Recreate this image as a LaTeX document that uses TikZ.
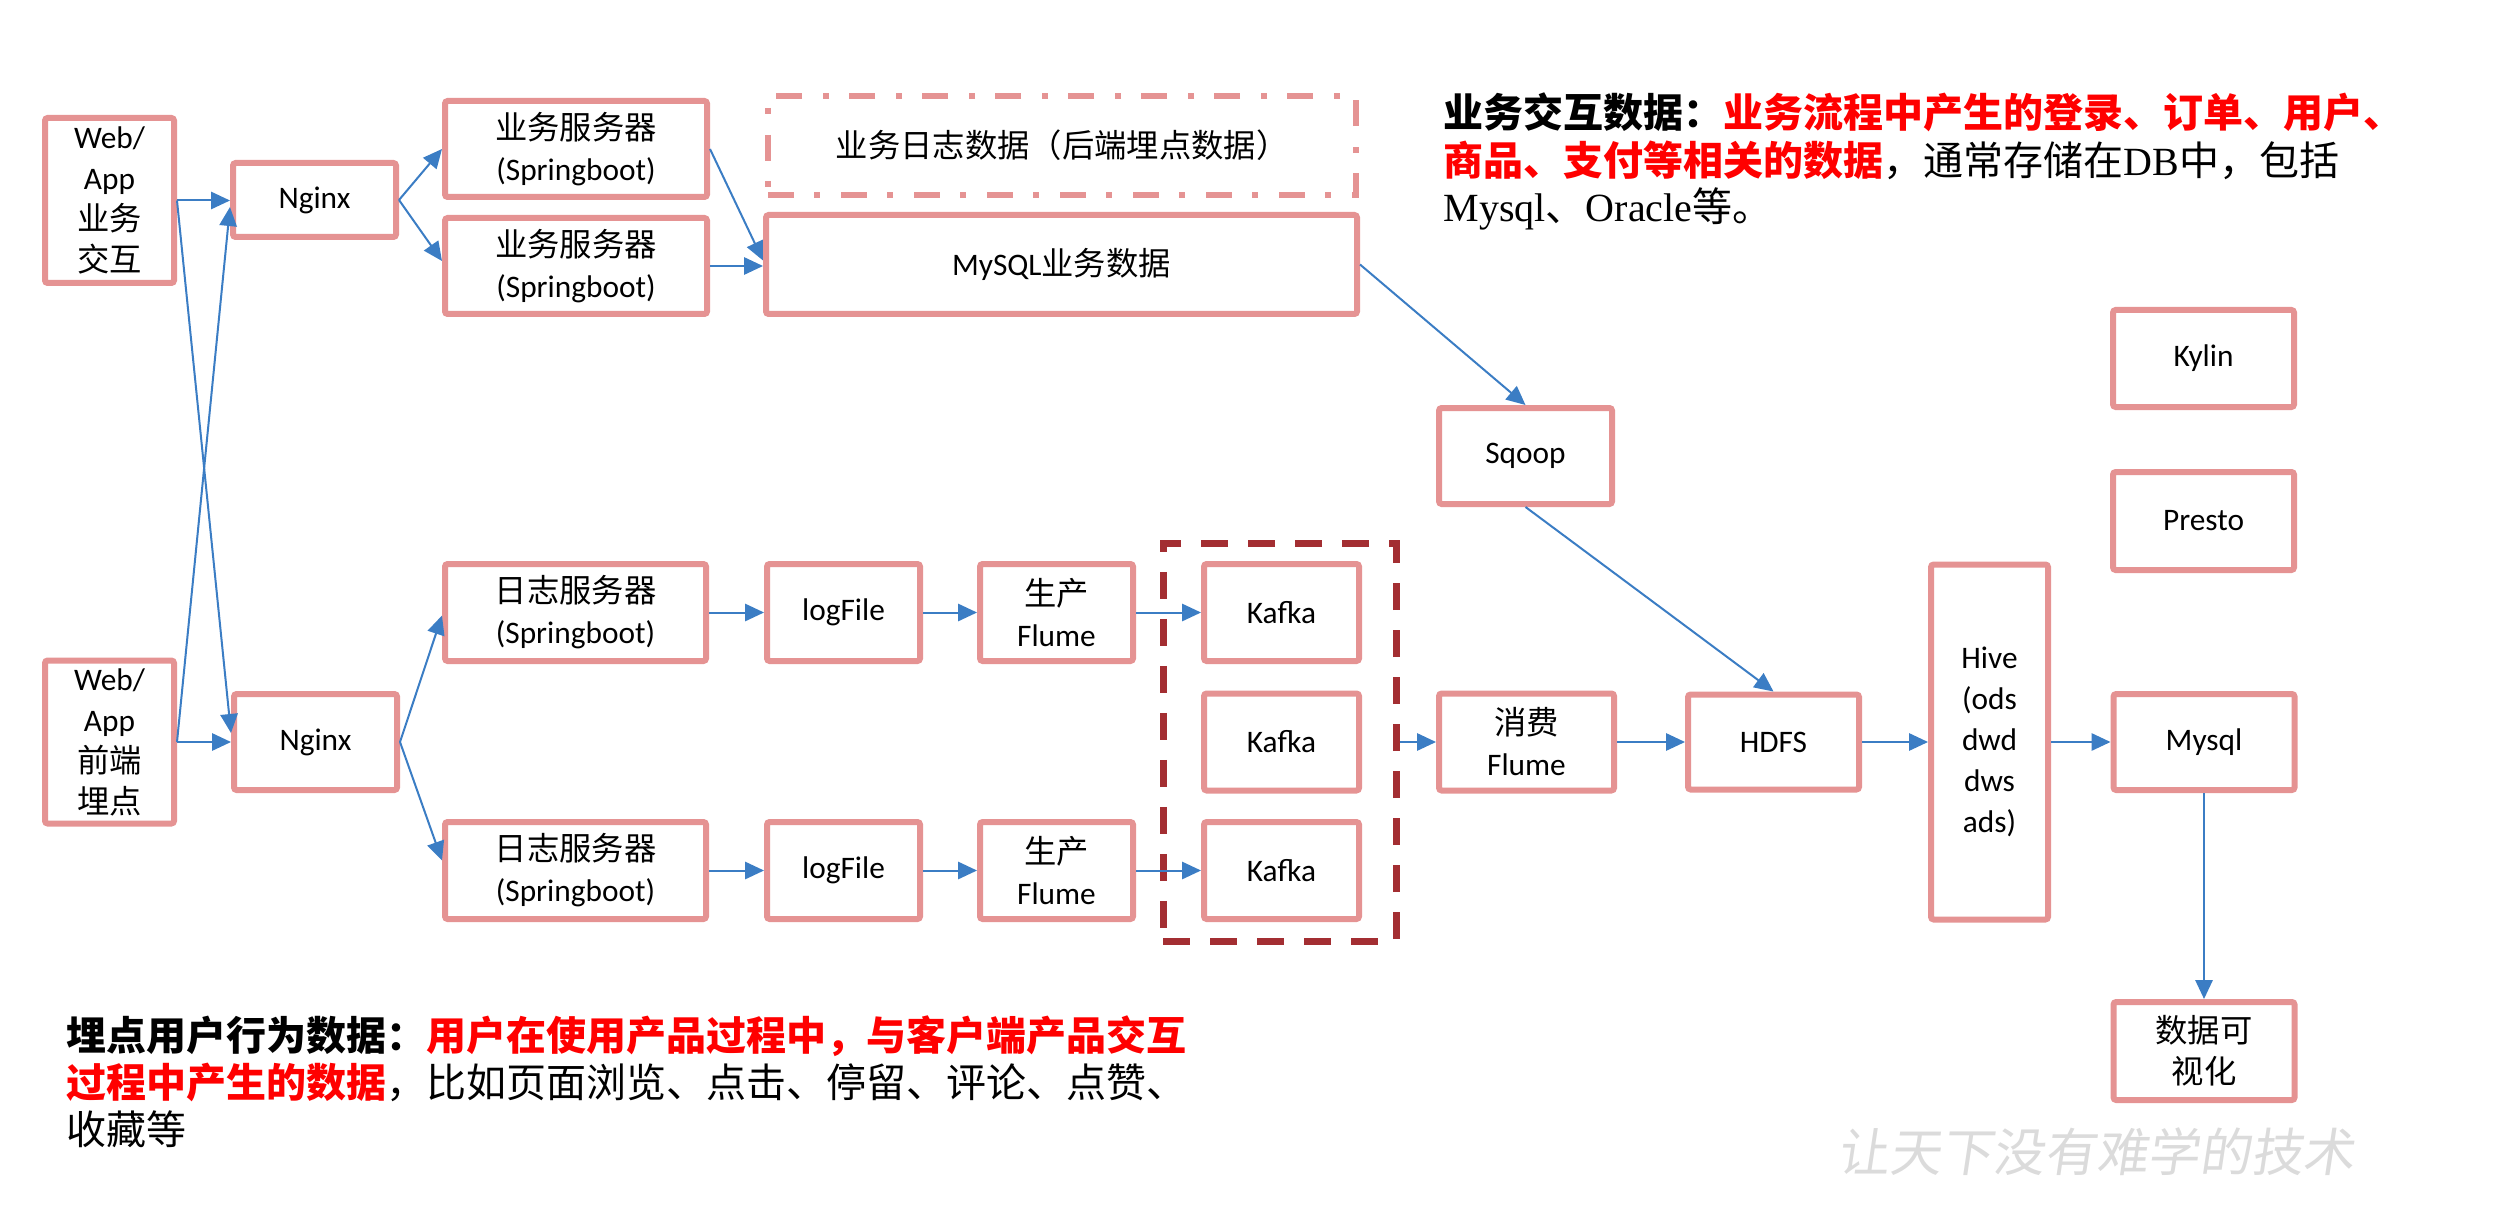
\documentclass[tikz,border=0pt]{standalone}
\usepackage{fontspec}
\setmainfont{Carlito}
\newfontfamily\zhfont{Noto Sans CJK SC}
\newfontfamily\serfont{Liberation Serif}
\newfontfamily\wmfont[FakeSlant=0.15]{Noto Sans CJK SC}
\usetikzlibrary{arrows.meta,calc}
\definecolor{boxpink}{RGB}{229,147,147}
\definecolor{arrblue}{RGB}{59,125,196}
\definecolor{kred}{RGB}{163,46,50}
\newcommand\zh[1]{{\zhfont\fontsize{9.7}{12.3}\selectfont #1}}
\newcommand\zhn[1]{{\zhfont #1}}
\newcommand\zhb[1]{{\zhfont\bfseries #1}}
\tikzset{
  box/.style={draw=boxpink, line width=1.8pt, fill=white, inner sep=0pt,
    align=center, font=\fontsize{9.4}{12.3}\selectfont, rounded corners=0.8pt},
  sz/.style 2 args={minimum width=#1*0.3pt, minimum height=#2*0.3pt},
  arr/.style={draw=arrblue, line width=0.6pt, -{Triangle[length=5.7pt,width=5.2pt]}},
  note/.style={anchor=base west, inner sep=0pt, font=\fontsize{12}{14.25}\selectfont},
}
\begin{document}
\begin{tikzpicture}[x=0.3pt,y=-0.3pt]
\useasboundingbox (0,0) rectangle (2520,1224);

% top business part
\node[box, sz={129}{165}] (webA) at (109.5,200.5) {Web/\\App\\\zh{业务}\\\zh{交互}};
\node[box, sz={163}{74}] (ngA) at (314.5,200) {Nginx};
\node[box, sz={262}{96}] (svA) at (576,149) {\zh{业务服务器}\\(Springboot)};
\node[box, sz={262}{96}] (svB) at (576,266) {\zh{业务服务器}\\(Springboot)};
\node[box, sz={588}{99}, dash pattern=on 7.8pt off 6pt on 1.8pt off 6.3pt, rounded corners=0pt] (logbox) at (1062,145.5) {\zh{业务日志数据（后端埋点数据）}};
\node[box, sz={591}{99}] (mysqlA) at (1061.5,264.5) {MySQL\zh{业务数据}};
\node[box, sz={173}{96}] (sqoop) at (1525.5,456) {Sqoop};
\node[box, sz={181}{97}] (kylin) at (2203.5,358.5) {Kylin};
\node[box, sz={181}{98}] (presto) at (2203.5,521) {Presto};

% bottom log part
\node[box, sz={129}{163}] (webB) at (109.5,742) {Web/\\App\\\zh{前端}\\\zh{埋点}};
\node[box, sz={163}{96}] (ngB) at (315.5,742) {Nginx};
\node[box, sz={261}{97}] (lsA) at (575.5,612.5) {\zh{日志服务器}\\(Springboot)};
\node[box, sz={261}{97}] (lsB) at (575.5,870.5) {\zh{日志服务器}\\(Springboot)};
\node[box, sz={153}{97}] (lfA) at (843.5,612.5) {logFile};
\node[box, sz={153}{97}] (lfB) at (843.5,870.5) {logFile};
\node[box, sz={153}{97}] (pfA) at (1056.5,612.5) {\zh{生产}\\Flume};
\node[box, sz={153}{97}] (pfB) at (1056.5,870.5) {\zh{生产}\\Flume};
\node[box, sz={155}{97}] (kA) at (1281.5,612.5) {Kafka};
\node[box, sz={155}{97}] (kB) at (1281.5,742) {Kafka};
\node[box, sz={155}{97}] (kC) at (1281.5,870.5) {Kafka};
\node[draw=kred, line width=2.1pt, dash pattern=on 8.1pt off 6pt, inner sep=0pt,
      minimum width=233*0.3pt, minimum height=398*0.3pt] (kgroup) at (1279.5,742) {};
\node[box, sz={175}{97}] (xf) at (1526.5,742) {\zh{消费}\\Flume};
\node[box, sz={171}{95}] (hdfs) at (1773.5,742) {HDFS};
\node[box, sz={117}{355}] (hive) at (1989.5,742) {Hive\\(ods\\dwd\\dws\\ads)};
\node[box, sz={181}{96}] (mysqlB) at (2204,742) {Mysql};
\node[box, sz={181}{98}] (vis) at (2204,1051) {\zh{数据可}\\\zh{视化}};

% connectors
\draw[arr] (webA.east) -- (webA.east -| ngA.west);
\draw[arr] (webA.east) -- ($(ngB.west)+(0,-9)$);
\draw[arr] (webB.east) -- (webB.east -| ngB.west);
\draw[arr] (webB.east) -- ($(ngA.west)+(0,7)$);
\draw[arr] (ngA.east) -- (svA.west);
\draw[arr] (ngA.east) -- ($(svB.west)+(0,-5)$);
\draw[arr] (svA.east) -- ($(mysqlA.west)+(0,-4)$);
\draw[arr] (svB.east) -- (svB.east -| mysqlA.west);
\draw[arr] (mysqlA.east) -- (sqoop.north);
\draw[arr] (sqoop.south) -- (hdfs.north);
\draw[arr] (ngB.east) -- ($(lsA.west)+(0,3)$);
\draw[arr] (ngB.east) -- ($(lsB.west)+(0,-10)$);
\draw[arr] (lsA.east) -- (lfA.west);
\draw[arr] (lfA.east) -- (pfA.west);
\draw[arr] (pfA.east) -- (kA.west);
\draw[arr] (lsB.east) -- (lfB.west);
\draw[arr] (lfB.east) -- (pfB.west);
\draw[arr] (pfB.east) -- (kC.west);
\draw[arr] (kgroup.east) -- (xf.west);
\draw[arr] (xf.east) -- (hdfs.west);
\draw[arr] (hdfs.east) -- (hive.west);
\draw[arr] (hive.east) -- (mysqlB.west);
\draw[arr] (mysqlB.south) -- (vis.north);

% annotations
\node[note] (tr1) at (1443,128) {\zhb{业务交互数据：}\textcolor{red}{\zhb{业务流程中产生的登录、订单、用户、}}};
\node[note] (tr2) at (1443,175.5) {\textcolor{red}{\zhb{商品、支付等相关的数据}}\zhn{，通常存储在}{\serfont DB}\zhn{中，包括}};
\node[note] (tr3) at (1443,222) {{\serfont Mysql}\zhn{、}{\serfont Oracle}\zhn{等。}};

\node[note] (bl1) at (66,1050) {\zhb{埋点用户行为数据：}\textcolor{red}{\zhb{用户在使用产品过程中，与客户端产品交互}}};
\node[note] (bl2) at (66,1097) {\textcolor{red}{\zhb{过程中产生的数据}}\zhn{，比如页面浏览、点击、停留、评论、点赞、}};
\node[note] (bl3) at (66,1144.5) {\zhn{收藏等}};

% watermark
\node[inner sep=0pt, text=black!14, font=\wmfont\fontsize{15.5}{16}\selectfont] (wm) at (2096,1152) {让天下没有难学的技术};
\end{tikzpicture}
\end{document}
